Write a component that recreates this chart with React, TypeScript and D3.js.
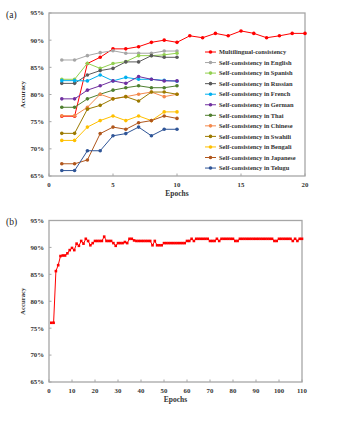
import React from "react";
import * as d3 from "d3";

const epochsA = [1, 2, 3, 4, 5, 6, 7, 8, 9, 10];
const epochsMulti = [1, 2, 3, 4, 5, 6, 7, 8, 9, 10, 11, 12, 13, 14, 15, 16, 17, 18, 19, 20];
const multilingual = [76.0, 76.0, 85.7, 86.85, 88.4, 88.4, 88.8, 89.6, 90.0, 89.6, 90.8, 90.45, 91.25, 90.8, 91.7, 91.25, 90.45, 90.8, 91.25, 91.25];
const english = [86.35, 86.35, 87.15, 87.7, 88.05, 87.6, 87.6, 87.6, 88.0, 88.0];
const spanish = [82.8, 82.8, 85.75, 84.8, 85.7, 86.05, 87.15, 87.15, 87.3, 87.6];
const russian = [82.05, 82.05, 83.6, 84.4, 84.8, 86.0, 86.0, 87.15, 86.85, 86.85];
const french = [82.55, 82.55, 82.5, 83.6, 82.5, 83.15, 82.8, 82.8, 82.6, 82.45];
const german = [79.2, 79.2, 80.8, 81.6, 82.5, 82.05, 83.3, 82.8, 82.5, 82.5];
const thai = [77.65, 77.65, 79.2, 80.05, 80.8, 81.25, 81.6, 81.25, 81.25, 81.6];
const chinese = [76.1, 76.1, 77.65, 80.05, 79.2, 79.6, 80.05, 80.45, 79.6, 80.05];
const swahili = [72.85, 72.85, 77.3, 78.0, 79.2, 79.6, 78.8, 80.45, 80.45, 80.05];
const bengali = [71.55, 71.55, 74.0, 75.2, 76.05, 75.2, 76.05, 75.2, 76.8, 76.8];
const japanese = [67.25, 67.25, 67.95, 72.8, 74.0, 73.6, 74.8, 75.2, 76.05, 75.6];
const telugu = [66.0, 66.0, 69.65, 69.65, 72.4, 72.8, 74.0, 72.4, 73.6, 73.6];

const seriesNames = [
  "Multilingual-consistency",
  "Self-consistency in English",
  "Self-consistency in Spanish",
  "Self-consistency in Russian",
  "Self-consistency in French",
  "Self-consistency in German",
  "Self-consistency in Thai",
  "Self-consistency in Chinese",
  "Self-consistency in Swahili",
  "Self-consistency in Bengali",
  "Self-consistency in Japanese",
  "Self-consistency in Telugu",
];
const seriesColors = [
  "#ff0000", "#a6a6a6", "#92d050", "#595959", "#00b0f0", "#7030a0",
  "#4f7f2f", "#f4894c", "#9c7a00", "#ffc000", "#b0561c", "#2f5597",
];
const seriesValues = [multilingual, english, spanish, russian, french, german, thai, chinese, swahili, bengali, japanese, telugu];

// Bottom chart: multilingual consistency over 110 epochs
const multiLong = [
  76.0, 76.0, 85.6, 86.7, 88.4, 88.5, 88.5, 88.9, 89.5, 89.9,
  89.5, 90.7, 90.3, 91.2, 90.7, 91.6, 91.2, 90.4, 90.8, 91.2,
  91.2, 91.2, 91.2, 92.0, 91.2, 91.2, 91.2, 90.8, 90.3, 90.8,
  90.8, 90.8, 91.0, 90.8, 91.6, 91.6, 91.3, 91.2, 91.2, 91.2,
  91.2, 91.2, 91.2, 91.2, 90.4, 91.2, 90.4, 90.4, 90.4, 90.8,
  90.8, 90.8, 90.8, 90.8, 90.8, 90.8, 90.8, 90.8, 90.8, 91.2,
  91.2, 91.6, 91.2, 91.6, 91.6, 91.6, 91.6, 91.6, 91.6, 91.2,
  91.2, 91.2, 91.6, 91.2, 91.6, 91.6, 91.6, 91.6, 91.6, 91.6,
  91.2, 91.2, 91.6, 91.6, 91.6, 91.6, 91.6, 91.6, 91.6, 91.6,
  91.6, 91.6, 91.6, 91.6, 91.6, 91.6, 91.6, 91.2, 91.2, 91.6,
  91.6, 91.6, 91.6, 91.6, 91.6, 91.2, 91.6, 91.2, 91.6, 91.6,
];
const epochsLong = multiLong.map((_, i) => i + 1);

const yTicks = [65, 70, 75, 80, 85, 90, 95];
const xTicksA = [0, 5, 10, 15, 20];
const xTicksB = [0, 10, 20, 30, 40, 50, 60, 70, 80, 90, 100, 110];

const FONT = "'Liberation Serif', 'Times New Roman', serif";
const AXIS = "#a6a6a6";

function Axes({ x, y, xTicks, title, labelY }: any) {
  const [x0, x1] = x.range();
  const [yb, yt] = y.range();
  return (
    <g fontFamily={FONT}>
      <rect x={x0} y={yt} width={x1 - x0} height={yb - yt} fill="none" stroke={AXIS} strokeWidth={1.3} />
      {yTicks.map((t) => (
        <g key={"y" + t}>
          <line x1={x0} x2={x0 + 2.5} y1={y(t)} y2={y(t)} stroke={AXIS} strokeWidth={1} />
          <text x={x0 - 5} y={y(t)} dy="0.35em" textAnchor="end" fontSize={6.8} fontWeight="bold" fill="#333">
            {t}%
          </text>
        </g>
      ))}
      {xTicks.map((t: number) => (
        <g key={"x" + t}>
          <line x1={x(t)} x2={x(t)} y1={yb} y2={yb - 2.5} stroke={AXIS} strokeWidth={1} />
          <text x={x(t)} y={yb + 11} textAnchor="middle" fontSize={6.8} fontWeight="bold" fill="#333">
            {t}
          </text>
        </g>
      ))}
      <text
        transform={`translate(${x0 - 26},${(yb + yt) / 2}) rotate(-90)`}
        textAnchor="middle"
        dy="0.35em"
        fontSize={6.8}
        fontWeight="bold"
        fill="#333"
      >
        Accuracy
      </text>
      <text x={(x0 + x1) / 2} y={yb + 20} textAnchor="middle" fontSize={7.5} fontWeight="bold" fill="#333">
        Epochs
      </text>
      <text x={6} y={labelY} dy="0.35em" fontSize={9.5} fill="#222">
        {title}
      </text>
    </g>
  );
}

export default function App() {
  const xA = d3.scaleLinear().domain([0, 20]).range([49, 305]);
  const yA = d3.scaleLinear().domain([65, 95]).range([176, 13]);
  const xB = d3.scaleLinear().domain([0, 110]).range([49, 302]);
  const yB = d3.scaleLinear().domain([65, 95]).range([382, 220.5]);

  const lineA = (vals: number[], eps: number[]) =>
    d3.line<number>().x((_, i) => xA(eps[i])).y((v) => yA(v))(vals) || "";
  const lineB = d3.line<number>().x((_, i) => xB(epochsLong[i])).y((v) => yB(v))(multiLong) || "";

  const legendX = 205;
  const legendY0 = 52;
  const legendDy = 10.55;

  return (
    <svg width={356} height={423} style={{ position: "absolute", left: 0, top: 0, background: "#fff" }}>
      <Axes x={xA} y={yA} xTicks={xTicksA} title="(a)" labelY={15} />
      {seriesValues.map((vals, si) => {
        const eps = si === 0 ? epochsMulti : epochsA;
        return (
          <g key={si}>
            <path d={lineA(vals, eps)} fill="none" stroke={seriesColors[si]} strokeWidth={1} />
            {vals.map((v, i) => (
              <circle key={i} cx={xA(eps[i])} cy={yA(v)} r={1.8} fill={seriesColors[si]} />
            ))}
          </g>
        );
      })}
      <g fontFamily={FONT}>
        {seriesNames.map((n, i) => {
          const yy = legendY0 + i * legendDy;
          return (
            <g key={n}>
              <line x1={legendX} x2={legendX + 11} y1={yy} y2={yy} stroke={seriesColors[i]} strokeWidth={1} />
              <circle cx={legendX + 5.5} cy={yy} r={1.8} fill={seriesColors[i]} />
              <text x={legendX + 14} y={yy} dy="0.35em" fontSize={6.4} fontWeight="bold" fill="#333">
                {n}
              </text>
            </g>
          );
        })}
      </g>

      <Axes x={xB} y={yB} xTicks={xTicksB} title="(b)" labelY={222} />
      <path d={lineB} fill="none" stroke="#ff0000" strokeWidth={1} />
      {multiLong.map((v, i) => (
        <rect key={i} x={xB(epochsLong[i]) - 1.3} y={yB(v) - 1.3} width={2.6} height={2.6} fill="#ff0000" />
      ))}
    </svg>
  );
}
